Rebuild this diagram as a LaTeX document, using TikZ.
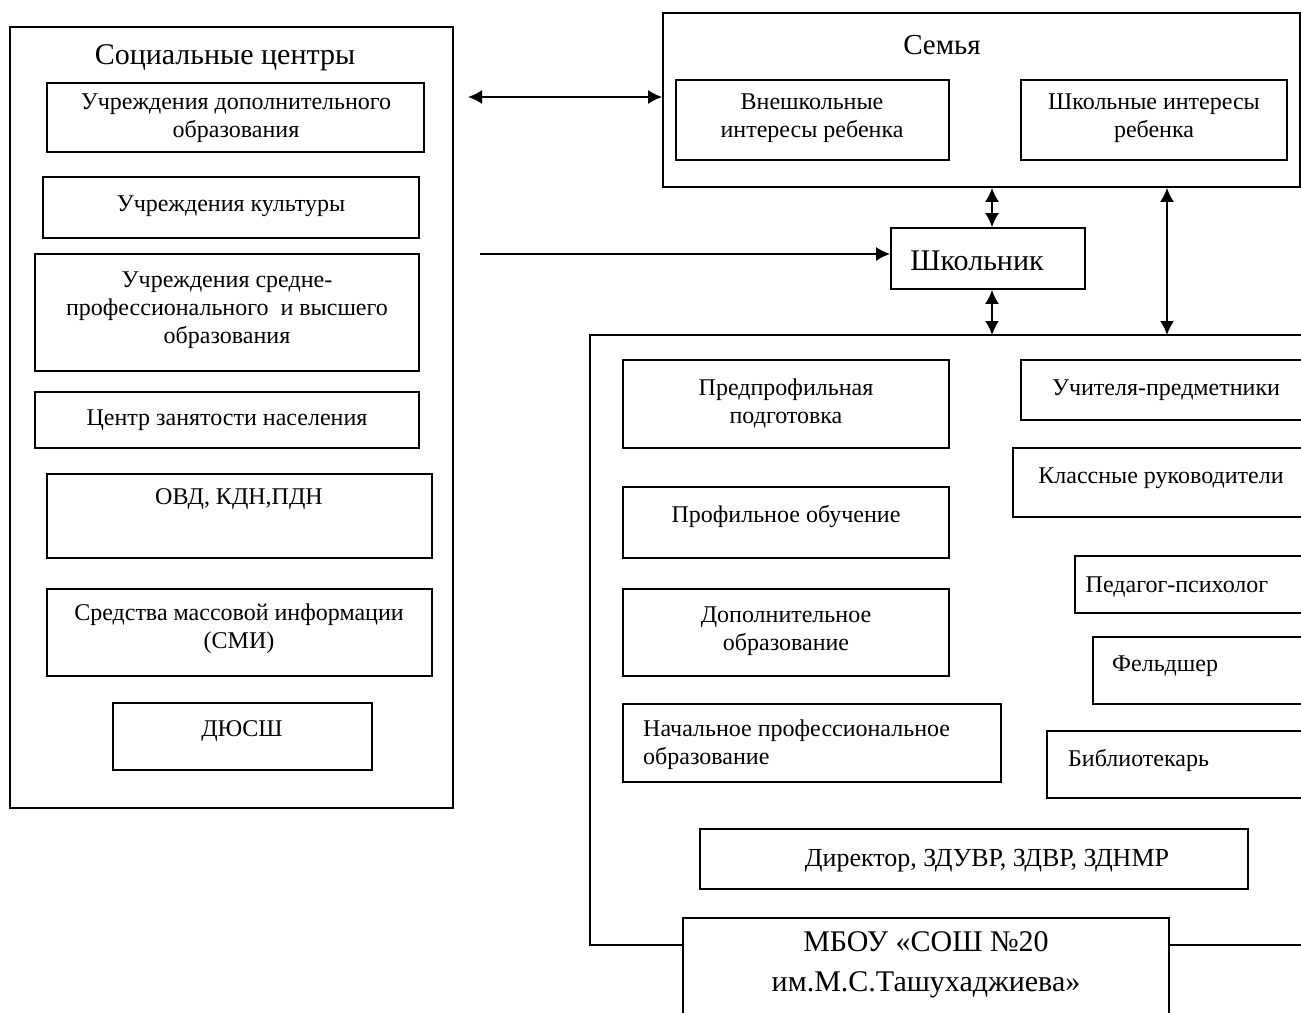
\documentclass[tikz,border=0pt]{standalone}
\usepackage{fontspec}
\setmainfont{Liberation Serif}
\usetikzlibrary{arrows.meta,fit,calc}
\tikzset{
  box/.style={draw, line width=1.8pt, rectangle, inner sep=0pt},
  txt/.style={align=center, inner sep=0pt, yshift=-2pt, font=\fontsize{24}{28}\selectfont},
  bigtxt/.style={align=center, inner sep=0pt, yshift=-2pt, font=\fontsize{30}{40}\selectfont},
  conn/.style={line width=1.8pt},
  tip/.tip={Latex[length=14pt,width=14pt]},
  onehead/.style={conn, -tip},
  twohead/.style={conn, tip-tip}
}
\begin{document}
\begin{tikzpicture}[x=1pt,y=-1pt]
\clip (0,0) rectangle (1301,1012);
\fill[white] (0,0) rectangle (1301,1012);
% left column
\node[box, fit={(10,27) (453,808)}] (soc) {};
\node[bigtxt] (soct) at (225,56) {Социальные центры};
\node[box, fit={(47,83) (424,152)}] (b1) {};
\node[txt] (b1t) at (236,116) {Учреждения дополнительного\\образования};
\node[box, fit={(43,177) (419,238)}] (b2) {};
\node[txt] (b2t) at (231,204) {Учреждения культуры};
\node[box, fit={(35,254) (419,371)}] (b3) {};
\node[txt] (b3t) at (227,308) {Учреждения средне-\\профессионального \ и высшего\\образования};
\node[box, fit={(35,392) (419,448)}] (b4) {};
\node[txt] (b4t) at (227,418) {Центр занятости населения};
\node[box, fit={(47,474) (432,558)}] (b5) {};
\node[txt] (b5t) at (239,497) {ОВД, КДН,ПДН};
\node[box, fit={(47,589) (432,676)}] (b6) {};
\node[txt] (b6t) at (239,627) {Средства массовой информации\\(СМИ)};
\node[box, fit={(113,703) (372,770)}] (b7) {};
\node[txt] (b7t) at (242,729) {ДЮСШ};
% family
\node[box, fit={(663,13) (1300,187)}] (sem) {};
\node[txt, font=\fontsize{29}{34}\selectfont] (semt) at (942,43) {Семья};
\node[box, fit={(676,80) (949,160)}] (vne) {};
\node[txt] (vnet) at (812,116) {Внешкольные\\интересы ребенка};
\node[box, fit={(1021,80) (1287,160)}] (shi) {};
\node[txt] (shit) at (1154,116) {Школьные интересы\\ребенка};
% pupil
\node[box, fit={(891,228) (1085,289)}] (pup) {};
\node[bigtxt] (pupt) at (977,259) {Школьник};
% school
\node[box, fit={(683,918) (1169,1040)}] (mbou) {};
\node[bigtxt] (mbout) at (926,963) {МБОУ «СОШ №20\\им.М.С.Ташухаджиева»};
\coordinate (ftr) at (1320,335);
\coordinate (ftl) at (590,335);
\coordinate (fbl) at (590,945);
\coordinate (fbr) at (1320,945);
\draw[conn] (ftr) -- (ftl) -- (fbl) -- (fbl -| mbou.west);
\draw[conn] (fbr -| mbou.east) -- (fbr);
\node[box, fit={(623,360) (949,448)}] (s1) {};
\node[txt] (s1t) at (786,401) {Предпрофильная\\подготовка};
\node[box, fit={(623,487) (949,558)}] (s2) {};
\node[txt] (s2t) at (786,514) {Профильное обучение};
\node[box, fit={(623,589) (949,676)}] (s3) {};
\node[txt] (s3t) at (786,629) {Дополнительное\\образование};
\node[box, fit={(623,704) (1001,782)}] (s4) {};
\node[txt, anchor=west, align=left] (s4t) at (643,743) {Начальное профессиональное\\образование};
\node[box, fit={(1021,360) (1330,420)}] (r1) {};
\node[txt] (r1t) at (1166,388) {Учителя-предметники};
\node[box, fit={(1013,448) (1330,517)}] (r2) {};
\node[txt] (r2t) at (1161,476) {Классные руководители};
\node[box, fit={(1075,556) (1330,613)}] (r3) {};
\node[txt] (r3t) at (1177,585) {Педагог-психолог};
\node[box, fit={(1093,637) (1330,704)}] (r4) {};
\node[txt, anchor=west] (r4t) at (1112,664) {Фельдшер};
\node[box, fit={(1047,731) (1330,798)}] (r5) {};
\node[txt, anchor=west] (r5t) at (1068,758) {Библиотекарь};
\node[box, fit={(700,829) (1248,889)}] (dir) {};
\node[txt, font=\fontsize{26}{30}\selectfont] (dirt) at (987,859) {Директор, ЗДУВР, ЗДВР, ЗДНМР};
% connectors
\coordinate (l1) at (468,97);
\draw[twohead] (l1) -- (l1 -| sem.west);
\coordinate (l2) at (480,254);
\draw[onehead] (l2) -- (l2 -| pup.west);
\coordinate (v1) at (992,0);
\draw[twohead] (v1 |- sem.south) -- (v1 |- pup.north);
\draw[twohead] (v1 |- pup.south) -- (v1 |- ftl);
\coordinate (v2) at (1167,0);
\draw[twohead] (v2 |- sem.south) -- (v2 |- ftl);
\end{tikzpicture}
\end{document}
